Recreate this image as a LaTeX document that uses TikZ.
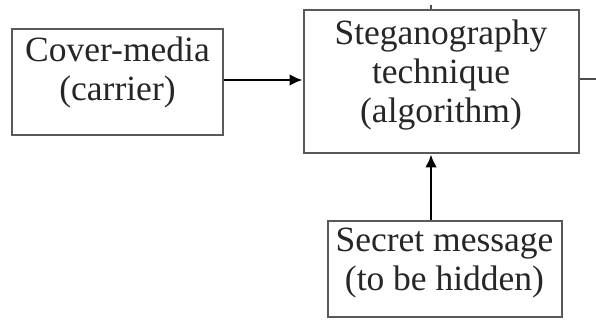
\documentclass[tikz,border=0pt]{standalone}
\usepackage{fontspec}
\setmainfont{Liberation Serif}
\usetikzlibrary{arrows.meta}

\begin{document}
\begin{tikzpicture}[x=1pt, y=-1pt,
  box/.style={draw=black!65, line width=2pt, align=center, inner sep=0pt, text=black!85, font=\fontsize{35.5}{39}\selectfont},
  link/.style={black, line width=2.6pt, -{Latex[length=13pt, width=12pt]}}]
  \useasboundingbox (0,0) rectangle (596,320);
  \node[box, minimum width=211, minimum height=106, text depth=26pt] (cover) at (117.5,82) {Cover-media\\(carrier)};
  \node[box, minimum width=275, minimum height=143, text depth=22pt] (stego) at (441,82) {Steganography\\technique\\(algorithm)};
  \node[box, minimum width=234, minimum height=96, text depth=19pt] (secret) at (444.5,268.5) {Secret message\\(to be hidden)};
  \coordinate (feed) at (431,0);
  \coordinate (out) at (596,79);
  \coordinate (mid) at (0,80);
  \draw[link] (cover.east |- mid) -- (stego.west |- mid);
  \draw[link] (secret.north -| feed) -- (stego.south -| feed);
  \draw[black!70, line width=2pt] (stego.east |- out) -- (out);
  \draw[black!70, line width=1.5pt] (stego.north -| feed) -- ++(0,-4);
\end{tikzpicture}
\end{document}
